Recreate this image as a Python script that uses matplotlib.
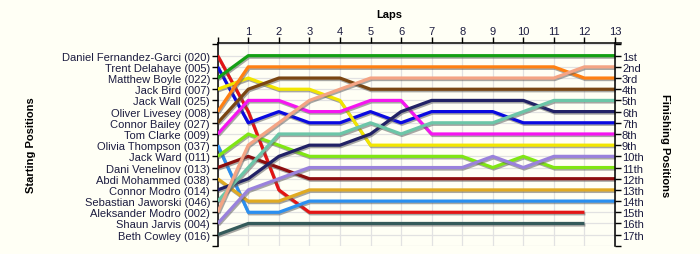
import matplotlib
matplotlib.use('Agg')
import matplotlib.pyplot as plt
import matplotlib.patheffects as pe
import numpy as np

plt.rcParams['font.family'] = ['Liberation Sans', 'DejaVu Sans']

BG = '#fffff5'
TEXT = '#1c1c40'
FS = 8.0

laps = list(range(0, 14))
drivers = [
    'Daniel Fernandez-Garci (020)', 'Trent Delahaye (005)', 'Matthew Boyle (022)',
    'Jack Bird (007)', 'Jack Wall (025)', 'Oliver Livesey (008)', 'Connor Bailey (027)',
    'Tom Clarke (009)', 'Olivia Thompson (037)', 'Jack Ward (011)', 'Dani Venelinov (013)',
    'Abdi Mohammed (038)', 'Connor Modro (014)', 'Sebastian Jaworski (046)',
    'Aleksander Modro (002)', 'Shaun Jarvis (004)', 'Beth Cowley (016)',
]
finish_labels = ['1st', '2nd', '3rd', '4th', '5th', '6th', '7th', '8th', '9th', '10th',
                 '11th', '12th', '13th', '14th', '15th', '16th', '17th']
colors = ['#e31515', '#0a0ae0', '#14a014', '#f2e600', None, '#ff8012', '#7a4612',
          '#f516f0', '#2b8ff0', '#80e614', '#8c0e0e', '#e0aa22', '#222266',
          '#6cc6a8', '#f4a484', '#9a82dc', '#345a5a']

N = np.nan
# position of each driver at the end of each lap (lap 0 = grid)
pos_020 = [1, 6, 13, 15, 15, 15, 15, 15, 15, 15, 15, 15, 15, N]
pos_005 = [2, 7, 6, 7, 7, 6, 7, 6, 6, 6, 7, 7, 7, 7]
pos_022 = [3, 1, 1, 1, 1, 1, 1, 1, 1, 1, 1, 1, 1, 1]
pos_007 = [4, 3, 4, 4, 5, 9, 9, 9, 9, 9, 9, 9, 9, 9]
pos_025 = [N] * 14
pos_008 = [6, 2, 2, 2, 2, 2, 2, 2, 2, 2, 2, 2, 3, 3]
pos_027 = [7, 4, 3, 3, 3, 4, 4, 4, 4, 4, 4, 4, 4, 4]
pos_009 = [8, 5, 5, 6, 6, 5, 5, 8, 8, 8, 8, 8, 8, 8]
pos_037 = [9, 15, 15, 14, 14, 14, 14, 14, 14, 14, 14, 14, 14, 14]
pos_011 = [10, 8, 9, 10, 10, 10, 10, 10, 10, 11, 10, 11, 11, 11]
pos_013 = [11, 10, 11, 12, 12, 12, 12, 12, 12, 12, 12, 12, 12, 12]
pos_038 = [12, 14, 14, 13, 13, 13, 13, 13, 13, 13, 13, 13, 13, 13]
pos_014 = [13, 12, 10, 9, 9, 8, 6, 5, 5, 5, 5, 6, 6, 6]
pos_046 = [14, 11, 8, 8, 8, 7, 8, 7, 7, 7, 6, 5, 5, 5]
pos_002 = [15, 9, 7, 5, 4, 3, 3, 3, 3, 3, 3, 3, 2, 2]
pos_004 = [16, 13, 12, 11, 11, 11, 11, 11, 11, 10, 11, 10, 10, 10]
pos_016 = [17, 16, 16, 16, 16, 16, 16, 16, 16, 16, 16, 16, 16, N]
positions = [pos_020, pos_005, pos_022, pos_007, pos_025, pos_008, pos_027, pos_009,
             pos_037, pos_011, pos_013, pos_038, pos_014, pos_046, pos_002, pos_004, pos_016]

fig = plt.figure(figsize=(7, 2.55), dpi=100, facecolor=BG)
ax = fig.add_axes([0.311, 0.032, 0.5763, 0.794], facecolor=BG)

for ps, c in zip(positions, colors):
    if c is None:
        continue
    ax.plot(laps, ps, color=c, lw=2.3, solid_capstyle='butt', zorder=3,
            path_effects=[pe.SimpleLineShadow(offset=(0.7, -1.1), shadow_color='#606060', alpha=0.55),
                          pe.Normal()])

ax.set_xlim(0, 13.2)
ax.set_ylim(18, -0.1)
ax.set_xticks(laps)
ax.set_xticklabels([''] + [str(l) for l in laps[1:]])
ax.xaxis.tick_top()
ax.set_yticks(range(0, 19))
ax.set_yticklabels([''] + drivers + [''])
ax.tick_params(axis='x', direction='out', length=4, width=1, pad=1, labelsize=FS, labelcolor=TEXT)
ax.tick_params(axis='y', direction='out', length=4, width=1, pad=1.5, labelsize=FS, labelcolor=TEXT)
ax.grid(True, color='#e2e2e2', lw=0.9, zorder=0)
for s in ['bottom', 'right']:
    ax.spines[s].set_visible(False)
ax.spines['top'].set_linewidth(1.1)
ax.spines['left'].set_linewidth(1.1)

ax2 = ax.twinx()
ax2.set_ylim(18, -0.1)
ax2.set_yticks(range(0, 19))
ax2.set_yticklabels([''] + finish_labels + [''])
ax2.spines['right'].set_position(('data', 13))
ax2.spines['right'].set_linewidth(1.1)
for s in ['bottom', 'left', 'top']:
    ax2.spines[s].set_visible(False)
ax2.tick_params(axis='y', direction='out', length=4, width=1, pad=1, labelsize=FS, labelcolor=TEXT)

fig.text(0.556, 0.94, 'Laps', ha='center', va='center', fontsize=FS, fontweight='bold', color='black')
fig.text(0.044, 0.43, 'Starting Positions', ha='center', va='center', rotation=90,
         fontsize=FS, fontweight='bold', color='black')
fig.text(0.95, 0.43, 'Finishing Positions', ha='center', va='center', rotation=-90,
         fontsize=FS, fontweight='bold', color='black')

fig.savefig('out.png', dpi=100, facecolor=BG)
